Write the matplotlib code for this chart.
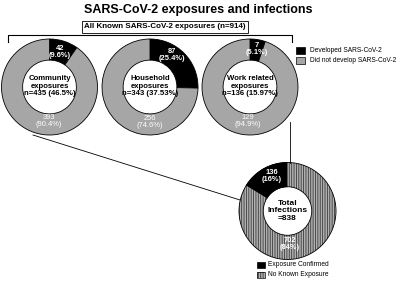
import matplotlib.pyplot as plt
from matplotlib.patches import Rectangle, Circle

plt.rcParams['font.family'] = ['Liberation Sans', 'DejaVu Sans']
plt.rcParams['hatch.linewidth'] = 0.6

# data
groups = ['Community\nexposures\nn=435 (46.5%)',
          'Household\nexposures\nn=343 (37.53%)',
          'Work related\nexposures\nn=136 (15.97%)']
developed = [42, 87, 7]
not_developed = [393, 256, 129]
dev_pct = ['9.6%', '25.4%', '5.1%']
notdev_pct = ['90.4%', '74.6%', '94.9%']
total_label = 'Total\nInfections\n=838'
total_vals = [136, 702]
total_pct = ['16%', '84%']

W, H = 400, 281
fig = plt.figure(figsize=(4, 2.81), dpi=100)
ax = fig.add_axes([0, 0, 1, 1])

def Y(y):
    return H - y

gray = '#a6a6a6'
black = '#000000'
stripe_face = '#b0b0b0'
stripe_col = '#3a3a3a'
R = 48
centers = [(49.5, 87), (150, 87), (250, 87)]
dev_lab_pos = [(60, 52), (172, 55), (257, 49)]
not_lab_pos = [(49, 121), (150, 122), (248, 121)]

for i, (cx, cy) in enumerate(centers):
    ax.pie([developed[i], not_developed[i]], colors=[black, gray],
           center=(cx, Y(cy)), radius=R, startangle=90, counterclock=False,
           wedgeprops=dict(width=R * 0.44, edgecolor='black', linewidth=0.6))
    ax.text(cx, Y(cy) + 1, groups[i], ha='center', va='center',
            fontsize=5.6, fontweight='bold', linespacing=1.15)
    ax.text(dev_lab_pos[i][0], Y(dev_lab_pos[i][1]),
            f'{developed[i]}\n({dev_pct[i]})', ha='center', va='center',
            fontsize=5.4, fontweight='bold', color='white', linespacing=1.1)
    ax.text(not_lab_pos[i][0], Y(not_lab_pos[i][1]),
            f'{not_developed[i]}\n({notdev_pct[i]})', ha='center', va='center',
            fontsize=5.4, color='white', linespacing=1.1)

# total donut
tcx, tcy, TR = 287.5, 211, 48.5
wedges, _ = ax.pie(total_vals, colors=[black, stripe_face], center=(tcx, Y(tcy)),
                   radius=TR, startangle=90, counterclock=True,
                   wedgeprops=dict(width=TR * 0.5, edgecolor='black', linewidth=0.6))
wedges[1].set_edgecolor(stripe_col)
wedges[1].set_linewidth(0)
wedges[1].set_hatch('|||||||')
ax.add_patch(Circle((tcx, Y(tcy)), TR, fill=False, ec='black', lw=0.6))
ax.add_patch(Circle((tcx, Y(tcy)), TR * 0.5, fill=False, ec='black', lw=0.6))
ax.text(tcx, Y(tcy), total_label, ha='center', va='center', fontsize=6,
        fontweight='bold', linespacing=1.15)
ax.text(272, Y(176), f'{total_vals[0]}\n({total_pct[0]})', ha='center', va='center',
        fontsize=5.4, fontweight='bold', color='white', linespacing=1.1)
ax.text(290, Y(244), f'{total_vals[1]}\n({total_pct[1]})', ha='center', va='center',
        fontsize=5.4, color='white', fontweight='bold', linespacing=1.1)

# connectors
ax.plot([33, 240], [Y(135), Y(200)], color='black', lw=0.6)
ax.plot([290, 290], [Y(122), Y(163)], color='black', lw=0.6)
ax.plot([8, 8, 292, 292], [Y(42), Y(35), Y(35), Y(42)], color='black', lw=0.8)

# titles
ax.text(198, Y(10), 'SARS-CoV-2 exposures and infections', ha='center', va='center',
        fontsize=9, fontweight='bold')
ax.text(165, Y(27), 'All Known SARS-CoV-2 exposures (n=914)', ha='center', va='center',
        fontsize=5.8, fontweight='bold',
        bbox=dict(boxstyle='square,pad=0.25', fc='white', ec='black', lw=0.6))

# legends
leg1 = ['Developed SARS-CoV-2', 'Did not develop SARS-CoV-2']
for k, (lab, col) in enumerate(zip(leg1, [black, gray])):
    y0 = 47 + k * 10
    ax.add_patch(Rectangle((296, Y(y0 + 7)), 9, 7, fc=col, ec='black', lw=0.5))
    ax.text(310, Y(y0 + 3.5), lab, ha='left', va='center', fontsize=4.8)

leg2 = ['Exposure Confirmed', 'No Known Exposure']
for k, lab in enumerate(leg2):
    y0 = 262 + k * 10
    if k == 0:
        ax.add_patch(Rectangle((257, Y(y0 + 6)), 8, 6, fc=black, ec='black', lw=0.5))
    else:
        ax.add_patch(Rectangle((257, Y(y0 + 6)), 8, 6, fc=stripe_face,
                               ec=stripe_col, lw=0, hatch='|||||||'))
        ax.add_patch(Rectangle((257, Y(y0 + 6)), 8, 6, fill=False, ec='black', lw=0.5))
    ax.text(268, Y(y0 + 3), lab, ha='left', va='center', fontsize=4.8)

ax.set_xlim(0, W)
ax.set_ylim(0, H)
ax.set_aspect('equal')
ax.axis('off')

fig.savefig('out.png', dpi=100)
